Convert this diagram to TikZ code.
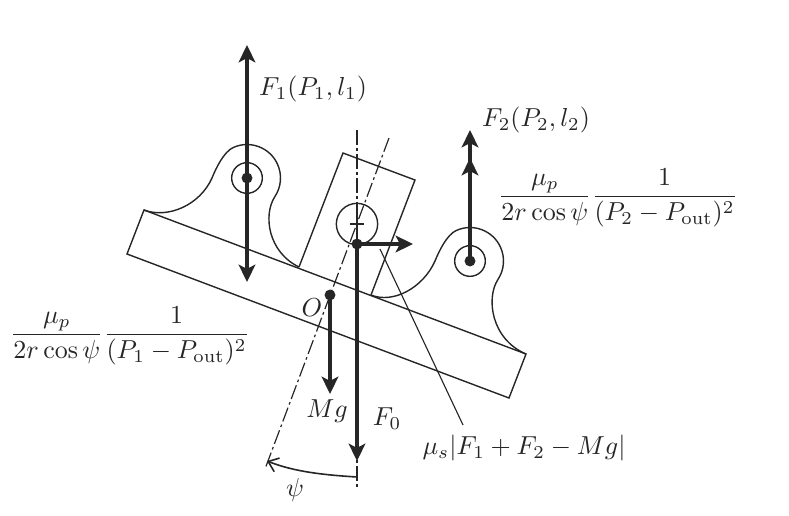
\documentclass[tikz,border=0pt]{standalone}
\usepackage{amsmath}
\usepackage{fix-cm}
\usetikzlibrary{arrows.meta}
\definecolor{ink}{HTML}{262626}
\tikzset{
  x=0.75pt,y=-0.75pt,
  thinl/.style={draw=ink,line width=1.05pt},
  leaderl/.style={draw=ink,line width=0.85pt},
  axisl/.style={draw=ink,line width=0.9pt,dash pattern=on 11pt off 2.5pt on 2pt off 2.5pt},
  tipf/.tip={Stealth[length=13pt,width=12.5pt,inset=3.2pt,fill=ink]},
  force/.style={draw=ink,line width=2.5pt,-{tipf}},
  force2/.style={draw=ink,line width=2.5pt,{tipf}-{tipf}},
  dotn/.style={circle,fill=ink,inner sep=0pt,minimum size=8.2pt},
  ringn/.style={circle,thinl,inner sep=0pt},
  lbl/.style={inner sep=0pt,scale=1.95,text=ink},
}
\begin{document}
\begin{tikzpicture}
\useasboundingbox (0,0) rectangle (789,515);
% free ends
\coordinate (axT) at (357,130);
\coordinate (axB) at (357,487);
\coordinate (tlT) at (389,138);
\coordinate (tlB) at (265,469);
\coordinate (f1T) at (247,45);
\coordinate (f1B) at (247,282);
\coordinate (f2T) at (470,130);
\coordinate (f2M) at (470,158);
\coordinate (fr) at (413,244);
\coordinate (mgT) at (330,394);
\coordinate (f0T) at (357,461);
\coordinate (ldA) at (380,249);
\coordinate (ldB) at (463,425);
\coordinate (arcA) at (357,477);
\coordinate (arcB) at (267,461);
% beam and block
\draw[thinl,line join=miter] (144,210) -- (526,354) -- (509,398) -- (127,254) -- cycle;
\draw[thinl,line join=miter] (299,267) -- (343,153) -- (415,180) -- (371,295);
% lugs
\draw[thinl] (144,210) .. controls (168,219) and (200,205) .. (212,178)
  .. controls (216,168) and (224,151.8) .. (233,147.6)
  arc[start angle=245.3,end angle=394,radius=33.5]
  .. controls (263,215) and (268,252) .. (299,267);
\draw[thinl] (371,295) .. controls (393,304) and (423,288) .. (435,261)
  .. controls (439,251) and (447,234.8) .. (456,230.6)
  arc[start angle=245.3,end angle=394,radius=33.5]
  .. controls (486,298) and (491,339) .. (526,354);
% axes
\draw[axisl] (axT) -- (axB);
\draw[axisl] (tlT) -- (tlB);
% rings, dots
\node[ringn,minimum size=23pt] (ringL) at (247,178) {};
\node[ringn,minimum size=23pt] (ringR) at (470,261) {};
\node[ringn,minimum size=31pt] (ringC) at (357,224) {};
\node[dotn] (pL) at (247,178) {};
\node[dotn] (pR) at (470,261) {};
\node[dotn] (pC) at (357,244) {};
\node[dotn] (pO) at (330,295) {};
\draw[draw=ink,line width=1.8pt] (350,224) -- (364,224) (357,217) -- (357,231);
% leader
\draw[leaderl] (ldA) -- (ldB);
% forces
\draw[force2] (f1T) -- (f1B);
\draw[force] (pR.center) -- (f2T);
\draw[force] (pR.center) -- (f2M);
\draw[force] (pC.center) -- (fr);
\draw[force] (pC.center) -- (f0T);
\draw[force] (pO.center) -- (mgT);
% psi arc
\draw[draw=ink,line width=1.2pt,-{Straight Barb[length=7pt,width=11pt]}] (arcA) .. controls (325,475) and (295,472) .. (arcB);
% labels
\node[lbl] (tF1) at (313,89) {$F_1(P_1,l_1)$};
\node[lbl] (tF2) at (536,120) {$F_2(P_2,l_2)$};
\node[lbl] (tFR) at (618,198) {$\dfrac{\mu_p}{2r\cos\psi}\dfrac{1}{(P_2-P_{\mathrm{out}})^2}$};
\node[lbl] (tFL) at (130,336) {$\dfrac{\mu_p}{2r\cos\psi}\dfrac{1}{(P_1-P_{\mathrm{out}})^2}$};
\node[lbl] (tO) at (312,308) {$O$};
\node[lbl] (tMg) at (327,411) {$Mg$};
\node[lbl] (tF0) at (387,419) {$F_0$};
\node[lbl] (tmu) at (524,448) {$\mu_s|F_1+F_2-Mg|$};
\node[lbl] (tpsi) at (295,490) {$\psi$};
\end{tikzpicture}
\end{document}
